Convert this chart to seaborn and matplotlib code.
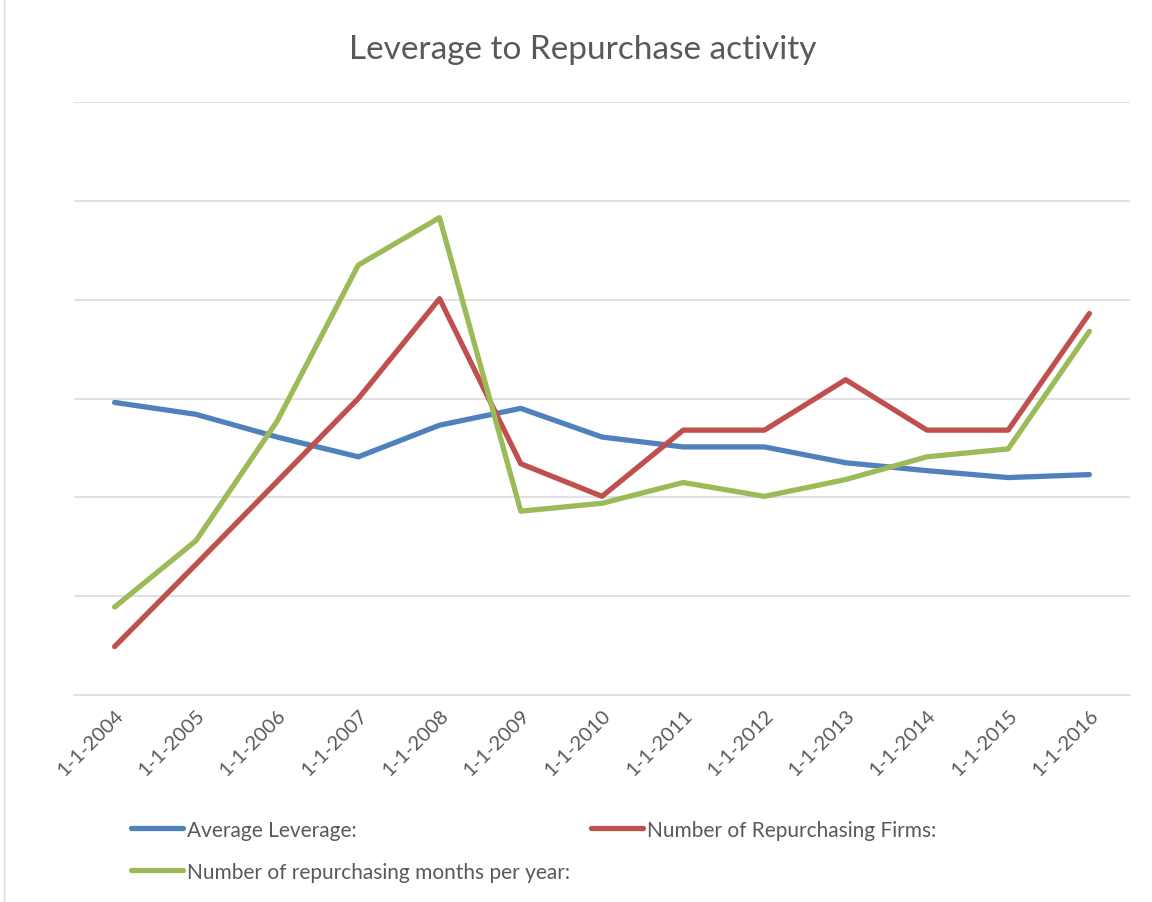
import matplotlib
matplotlib.use("Agg")
import matplotlib.pyplot as plt
import seaborn as sns
import pandas as pd
import numpy as np

categories = ["1-1-2004", "1-1-2005", "1-1-2006", "1-1-2007", "1-1-2008", "1-1-2009",
              "1-1-2010", "1-1-2011", "1-1-2012", "1-1-2013", "1-1-2014", "1-1-2015", "1-1-2016"]
avg_leverage = [2.96, 2.84, 2.61, 2.41, 2.73, 2.90, 2.61, 2.51, 2.51, 2.35, 2.27, 2.20, 2.23]
repurchasing_firms = [0.49, 1.32, 2.16, 3.00, 4.01, 2.34, 2.01, 2.68, 2.68, 3.19, 2.68, 2.68, 3.86]
repurchasing_months = [0.89, 1.56, 2.77, 4.35, 4.83, 1.86, 1.94, 2.15, 2.01, 2.18, 2.41, 2.49, 3.68]
series_names = ["Average Leverage:", "Number of Repurchasing Firms:",
                "Number of repurchasing months per year:"]
colors = ["#4F81BD", "#C0504D", "#9BBB59"]

rows = []
for name, vals in zip(series_names, [avg_leverage, repurchasing_firms, repurchasing_months]):
    for i, v in enumerate(vals):
        rows.append({"pos": i, "value": v, "series": name})
df = pd.DataFrame(rows)

sns.set_theme(style="white")
plt.rcParams['font.family'] = ['Lato', 'DejaVu Sans']

fig = plt.figure(figsize=(11.52, 9.03), dpi=100)
ax = fig.add_axes([74/1152, 1-696/903, (1130-74)/1152, (696-103)/903])

sns.lineplot(data=df, x="pos", y="value", hue="series", hue_order=series_names,
             palette=colors, linewidth=3.8, ax=ax, legend=False, sort=False,
             solid_capstyle="round")

ax.set_xlim(-0.5, 12.5)
ax.set_ylim(0, 6)
ax.set_yticks([1, 2, 3, 4, 5, 6])
ax.set_yticklabels([])
ax.tick_params(axis='y', length=0)
ax.yaxis.grid(True, color="#D9D9D9", linewidth=1.1)
ax.set_axisbelow(True)
for s in ["top", "right", "left"]:
    ax.spines[s].set_visible(False)
ax.spines["bottom"].set_color("#D9D9D9")
ax.spines["bottom"].set_linewidth(1.1)

ax.set_xticks(range(len(categories)))
ax.set_xticklabels(categories, rotation=45, ha="right", rotation_mode="anchor",
                   color="#595959", fontsize=14.5)
ax.tick_params(axis='x', which='major', length=0, pad=8)
ax.set_xticks(np.arange(-0.5, 13, 1.0), minor=True)
ax.tick_params(axis='x', which='minor', length=7, color="#D9D9D9", width=1.1)
ax.set_xlabel("")
ax.set_ylabel("")

fig.text(583/1152, 1-50/903, "Leverage to Repurchase activity", ha="center", va="center",
         fontsize=24, color="#595959")

from matplotlib.lines import Line2D
handles = [Line2D([0], [0], color=colors[0], lw=3.8, solid_capstyle="round"),
           Line2D([0], [0], color=colors[2], lw=3.8, solid_capstyle="round"),
           Line2D([0], [0], color=colors[1], lw=3.8, solid_capstyle="round")]
labels = [series_names[0], series_names[2], series_names[1]]
leg = fig.legend(handles, labels, loc="upper left", bbox_to_anchor=(112/1152, 1-802/903),
                 ncol=2, frameon=False, fontsize=15, handlelength=2.5, handletextpad=0.2,
                 columnspacing=1.0, labelspacing=1.05, labelcolor="#595959")

fig.add_artist(Line2D([4/1152, 4/1152], [0, 1], color="#D9D9D9", lw=1.0))

fig.savefig("out.png", dpi=100)
